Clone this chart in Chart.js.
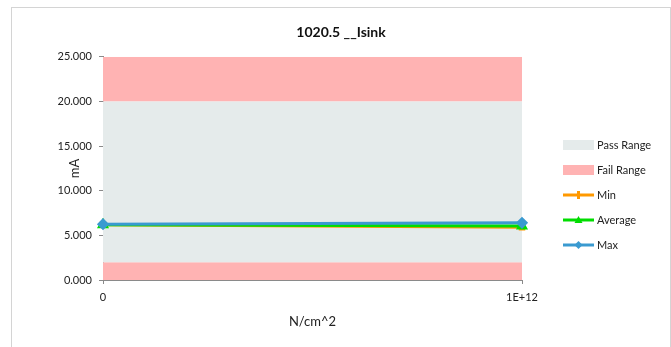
<!DOCTYPE html>
<html>
<head>
<meta charset="utf-8">
<script src="https://cdn.jsdelivr.net/npm/chart.js@4.4.1/dist/chart.umd.min.js"></script>
<style>
  body { margin: 0; background: #fff; }
  #wrap {
    position: absolute; left: 11px; top: 7px;
    width: 658px; height: 339px;
    border: 1px solid #d4d4d4; border-bottom: none;
  }
</style>
</head>
<body>
<div id="wrap"><canvas id="chart" width="658" height="339"></canvas></div>
<script>
// chart values
const xLabels = ["0", "1E+12"];
const minVals = [6.18, 5.9];
const avgVals = [6.2, 6.05];
const maxVals = [6.25, 6.4];
const passLow = [2, 2];
const passHigh = [20, 20];
const failTop = [25, 25];
const yTicks = [0, 5, 10, 15, 20, 25];

const FONT = "Lato, 'Open Sans', sans-serif";
const PASS = "#e5ebeb";
const FAIL = "#ffb3b3";

// legend drawn by hand so it sits where Excel put it
const legendPlugin = {
  id: "sideLegend",
  afterDraw(chart) {
    const ctx = chart.ctx;
    const items = [
      { text: "Pass Range", box: PASS },
      { text: "Fail Range", box: FAIL },
      { text: "Min", line: "#ff9900", mark: "dash" },
      { text: "Average", line: "#00dd00", mark: "tri" },
      { text: "Max", line: "#3a9ad0", mark: "diamond" },
    ];
    const x0 = 551, x1 = 582;
    const ys = [137, 162, 187, 212, 237];
    ctx.save();
    ctx.font = "11px " + FONT;
    ctx.textBaseline = "middle";
    items.forEach((it, i) => {
      const y = ys[i];
      const cx = (x0 + x1) / 2;
      if (it.box) {
        ctx.fillStyle = it.box;
        ctx.fillRect(x0, y - 5, x1 - x0, 10);
      } else {
        ctx.strokeStyle = it.line;
        ctx.lineWidth = 3;
        ctx.beginPath();
        ctx.moveTo(x0, y);
        ctx.lineTo(x1, y);
        ctx.stroke();
        ctx.fillStyle = it.line;
        ctx.beginPath();
        if (it.mark === "tri") {
          ctx.moveTo(cx, y - 4);
          ctx.lineTo(cx + 4, y + 3);
          ctx.lineTo(cx - 4, y + 3);
        } else if (it.mark === "diamond") {
          ctx.moveTo(cx, y - 4);
          ctx.lineTo(cx + 4, y);
          ctx.lineTo(cx, y + 4);
          ctx.lineTo(cx - 4, y);
        } else {
          ctx.rect(cx - 1.5, y - 4, 3, 8);
        }
        ctx.closePath();
        ctx.fill();
      }
      ctx.fillStyle = "#222";
      ctx.fillText(it.text, x1 + 3, y);
    });
    ctx.restore();
  },
};

const ctx = document.getElementById("chart").getContext("2d");
new Chart(ctx, {
  type: "line",
  data: {
    labels: xLabels,
    datasets: [
      {
        label: "Max",
        data: maxVals,
        borderColor: "#3a9ad0",
        backgroundColor: "#3a9ad0",
        borderWidth: 3,
        pointStyle: "rectRot",
        pointRadius: 4,
        order: 0,
      },
      {
        label: "Average",
        data: avgVals,
        borderColor: "#00dd00",
        backgroundColor: "#00dd00",
        borderWidth: 3,
        pointStyle: "triangle",
        pointRadius: 4,
        order: 1,
      },
      {
        label: "Min",
        data: minVals,
        borderColor: "#ff9900",
        backgroundColor: "#ff9900",
        borderWidth: 3,
        pointStyle: "rect",
        pointRadius: 2.5,
        order: 2,
      },
      {
        label: "Pass Range",
        data: passHigh,
        backgroundColor: PASS,
        borderWidth: 0,
        pointRadius: 0,
        fill: { value: passLow[0] },
        order: 5,
      },
      {
        label: "Fail Range",
        data: passLow,
        backgroundColor: FAIL,
        borderWidth: 0,
        pointRadius: 0,
        fill: "origin",
        order: 5,
      },
      {
        label: "Fail Range High",
        data: failTop,
        backgroundColor: FAIL,
        borderWidth: 0,
        pointRadius: 0,
        fill: { value: passHigh[0] },
        order: 5,
      },
    ],
  },
  options: {
    responsive: false,
    animation: false,
    plugins: {
      legend: { display: false },
      tooltip: { enabled: false },
      title: {
        display: true,
        text: "1020.5 __Isink",
        color: "#111",
        font: { family: FONT, size: 14, weight: "bold" },
        padding: { top: 16, bottom: 16 },
      },
    },
    scales: {
      x: {
        type: "category",
        offset: false,
        grid: { drawOnChartArea: false, tickLength: 4, color: "#8a8a8a" },
        border: { color: "#8a8a8a" },
        ticks: { color: "#222", font: { family: FONT, size: 11 }, padding: 7, maxRotation: 0 },
        title: {
          display: true,
          text: "N/cm^2",
          color: "#222",
          font: { family: FONT, size: 13 },
          padding: { top: 4, bottom: 17 },
        },
        afterFit: (scale) => { scale.height = 67; },
      },
      y: {
        min: 0,
        max: 25,
        afterBuildTicks: (scale) => { scale.ticks = yTicks.map((v) => ({ value: v })); },
        grid: { drawOnChartArea: false, tickLength: 4, color: "#8a8a8a" },
        border: { color: "#8a8a8a" },
        ticks: {
          color: "#222",
          font: { family: FONT, size: 11 },
          padding: 7,
          callback: (v) => v.toFixed(3),
        },
        title: {
          display: true,
          text: "mA",
          color: "#222",
          font: { family: FONT, size: 13 },
          padding: { top: 55, bottom: 0 },
        },
        afterFit: (scale) => { scale.width = 91; },
      },
      // empty axis that keeps room for the legend on the right
      yRoom: {
        position: "right",
        min: 0,
        max: 25,
        grid: { display: false },
        border: { display: false },
        ticks: { display: false },
        afterFit: (scale) => { scale.width = 148; },
      },
    },
  },
  plugins: [legendPlugin],
});
</script>
</body>
</html>
